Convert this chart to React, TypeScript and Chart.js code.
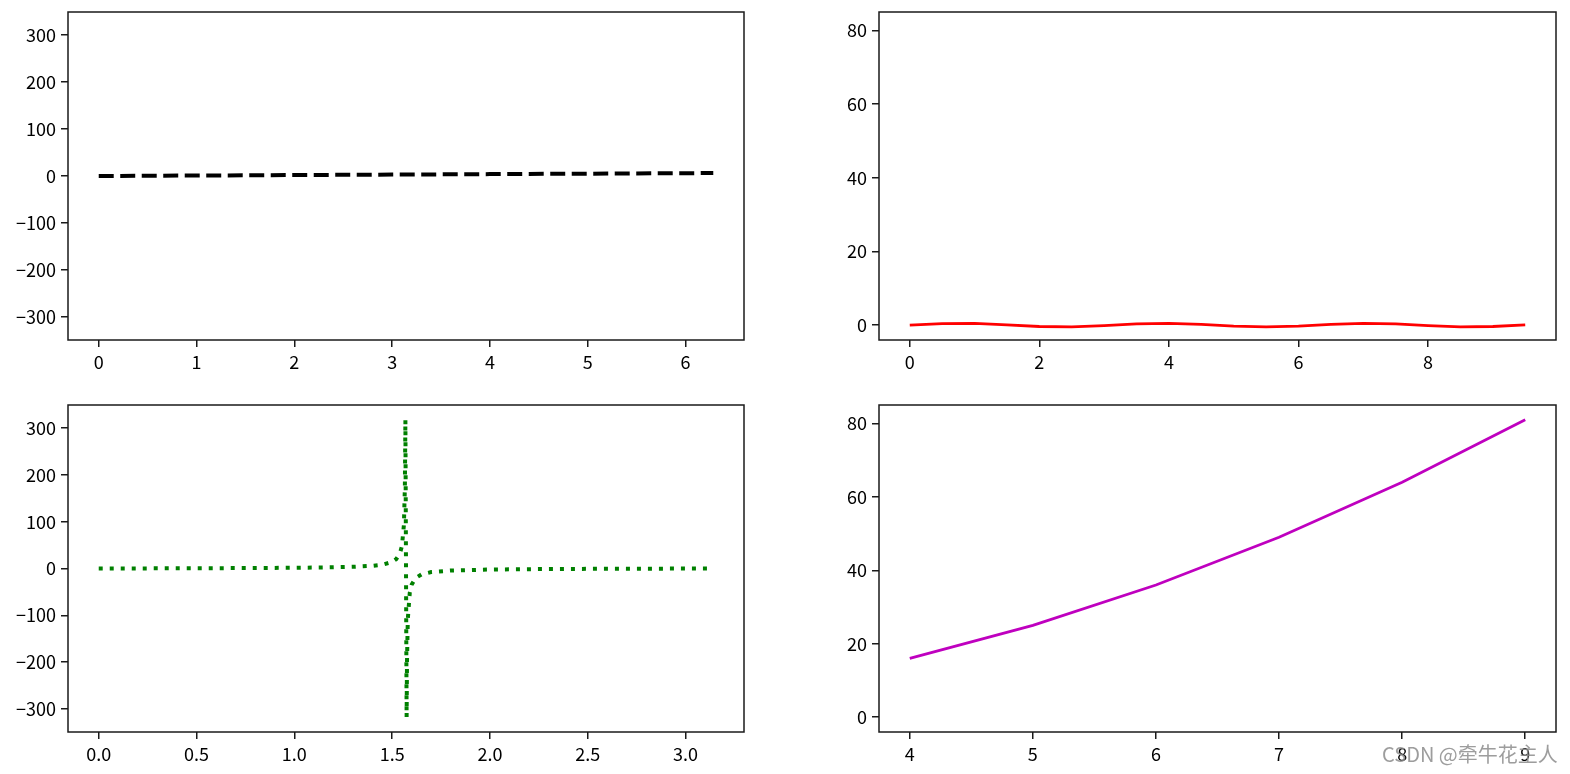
import React, { useEffect, useRef } from "react";
import { Chart, registerables } from "chart.js";
Chart.register(...registerables);

// ---- data ----
const lineX = [0, 1, 2, 3, 4, 5, 6, 6.2832];
const lineY = [0, 1, 2, 3, 4, 5, 6, 6.2832];

const sinX = [0, 0.5, 1, 1.5, 2, 2.5, 3, 3.5, 4, 4.5, 5, 5.5, 6, 6.5, 7, 7.5, 8, 8.5, 9, 9.5];
const sinY = [0, 0.42, 0.45, 0.07, -0.38, -0.48, -0.14, 0.33, 0.49, 0.21, -0.27, -0.5, -0.27, 0.21, 0.49, 0.33, -0.14, -0.48, -0.38, 0.07];

const tanX = [0, 0.2, 0.4, 0.6, 0.8, 1.0, 1.1, 1.2, 1.3, 1.4, 1.45, 1.5, 1.52, 1.54, 1.55, 1.56, 1.565, 1.5677, 1.5739, 1.576, 1.58, 1.59, 1.6, 1.62, 1.65, 1.7, 1.8, 2.0, 2.2, 2.4, 2.6, 2.8, 3.0, 3.1416];
const tanY = [0, 0.2, 0.42, 0.68, 1.03, 1.56, 1.96, 2.57, 3.6, 5.8, 8.2, 14.1, 19.7, 32.5, 48.1, 92.6, 172.5, 317.7, -317.7, -196.7, -108.6, -52.1, -34.2, -20.3, -12.6, -7.7, -4.3, -2.2, -1.37, -0.92, -0.6, -0.36, -0.14, 0];

const sqX = [4, 5, 6, 7, 8, 9];
const sqY = [16, 25, 36, 49, 64, 81];

const leftYTicks = [-300, -200, -100, 0, 100, 200, 300];
const rightYTicks = [0, 20, 40, 60, 80];
const tlXTicks = [0, 1, 2, 3, 4, 5, 6];
const trXTicks = [0, 2, 4, 6, 8];
const blXTicks = [0, 0.5, 1, 1.5, 2, 2.5, 3];
const brXTicks = [4, 5, 6, 7, 8, 9];

const FONT = '"Noto Sans CJK SC", "Liberation Sans", sans-serif';
const FSIZE = 18;

const framePlugin = {
  id: "frame",
  afterDraw(chart: any) {
    const { ctx, chartArea } = chart;
    const { left, top, right, bottom } = chartArea;
    ctx.save();
    ctx.strokeStyle = "#1a1a1a";
    ctx.lineWidth = 1.5;
    ctx.strokeRect(left, top, right - left, bottom - top);
    ctx.restore();
  },
};

function fmt(dec: number) {
  return (v: any) => {
    const s = Number(v).toFixed(dec);
    return s.replace("-", "\u2212");
  };
}

function axis(min: number, max: number, ticks: number[], dec: number, isX: boolean) {
  return {
    type: "linear",
    min,
    max,
    afterBuildTicks: (s: any) => {
      s.ticks = ticks.map((v) => ({ value: v }));
    },
    afterFit: (s: any) => {
      if (isX) s.height = 40;
      else s.width = 68;
      s.paddingTop = 0;
      s.paddingBottom = 0;
      s.paddingLeft = 0;
      s.paddingRight = 0;
    },
    grid: {
      display: true,
      drawOnChartArea: false,
      drawTicks: true,
      tickLength: 7,
      color: "#1a1a1a",
      lineWidth: 1.5,
    },
    border: { display: false },
    ticks: {
      color: "#000",
      font: { family: FONT, size: FSIZE },
      padding: isX ? 4 : 5,
      maxRotation: 0,
      autoSkip: false,
      callback: fmt(dec),
    },
  };
}

type Panel = {
  left: number;
  top: number;
  width: number;
  height: number;
  xs: number[];
  ys: number[];
  color: string;
  lw: number;
  dash: number[];
  xmin: number;
  xmax: number;
  xticks: number[];
  xdec: number;
  ymin: number;
  ymax: number;
  yticks: number[];
};

const panels: Panel[] = [
  {
    left: 0, top: 0, width: 754, height: 380,
    xs: lineX, ys: lineY, color: "#000000", lw: 4, dash: [15, 6.5],
    xmin: -0.3142, xmax: 6.5973, xticks: tlXTicks, xdec: 0,
    ymin: -349.5, ymax: 349.5, yticks: leftYTicks,
  },
  {
    left: 811, top: 0, width: 755, height: 380,
    xs: sinX, ys: sinY, color: "#ff0000", lw: 2.8, dash: [],
    xmin: -0.475, xmax: 9.975, xticks: trXTicks, xdec: 0,
    ymin: -4.05, ymax: 85.05, yticks: rightYTicks,
  },
  {
    left: 0, top: 393, width: 754, height: 379,
    xs: tanX, ys: tanY, color: "#008000", lw: 4, dash: [4, 7],
    xmin: -0.1571, xmax: 3.2987, xticks: blXTicks, xdec: 1,
    ymin: -349.5, ymax: 349.5, yticks: leftYTicks,
  },
  {
    left: 811, top: 393, width: 755, height: 379,
    xs: sqX, ys: sqY, color: "#bf00bf", lw: 2.8, dash: [],
    xmin: 3.75, xmax: 9.25, xticks: brXTicks, xdec: 0,
    ymin: -4.05, ymax: 85.05, yticks: rightYTicks,
  },
];

function PanelChart({ p }: { p: Panel }) {
  const ref = useRef<HTMLCanvasElement | null>(null);
  useEffect(() => {
    if (!ref.current) return;
    const chart = new Chart(ref.current, {
      type: "line",
      data: {
        datasets: [
          {
            data: p.xs.map((x, i) => ({ x, y: p.ys[i] })),
            borderColor: p.color,
            borderWidth: p.lw,
            borderDash: p.dash,
            borderCapStyle: "butt",
            pointRadius: 0,
            tension: 0,
            fill: false,
          },
        ],
      },
      options: {
        animation: false,
        responsive: false,
        maintainAspectRatio: false,
        devicePixelRatio: 1,
        layout: { padding: { top: 12, right: 10, left: 0, bottom: 0 } },
        plugins: { legend: { display: false }, tooltip: { enabled: false } },
        scales: {
          x: axis(p.xmin, p.xmax, p.xticks, p.xdec, true),
          y: axis(p.ymin, p.ymax, p.yticks, 0, false),
        } as any,
      },
      plugins: [framePlugin],
    } as any);
    return () => chart.destroy();
  }, [p]);
  return (
    <canvas
      ref={ref}
      width={p.width}
      height={p.height}
      style={{ position: "absolute", left: p.left, top: p.top, width: p.width, height: p.height }}
    />
  );
}

export default function App() {
  return (
    <div
      style={{
        position: "absolute",
        left: 0,
        top: 0,
        width: 1570,
        height: 774,
        background: "#fff",
        overflow: "hidden",
      }}
    >
      {panels.map((p, i) => (
        <PanelChart key={i} p={p} />
      ))}
      <div
        style={{
          position: "absolute",
          left: 1382,
          top: 739,
          fontFamily: FONT,
          fontSize: 20,
          color: "rgba(140,140,140,0.85)",
          whiteSpace: "nowrap",
          zIndex: 5,
        }}
      >
        CSDN @牵牛花主人
      </div>
    </div>
  );
}
